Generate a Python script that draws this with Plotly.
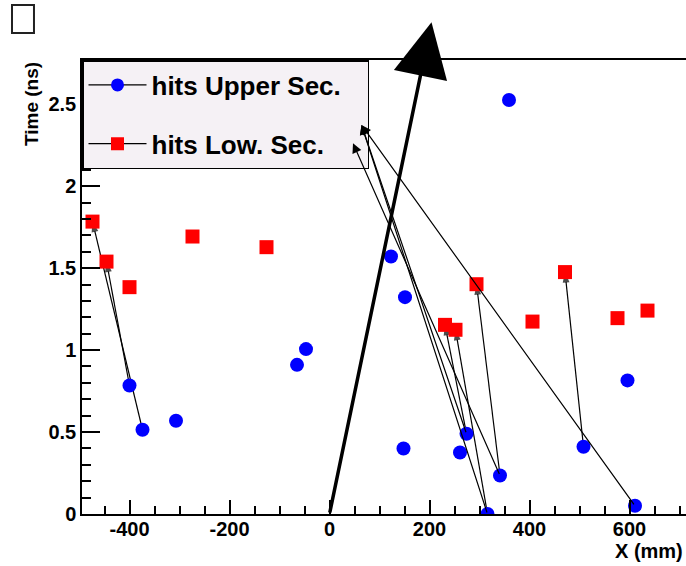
import plotly.graph_objects as go

# ---- data ----
upper_x = [611, 316, 341, 508, 596, 274, 261, 148, 151, 123, 359, -400, -374, -307, -65, -47]
upper_y = [0.05, 0.0, 0.235, 0.41, 0.815, 0.49, 0.375, 0.40, 1.323, 1.571, 2.526, 0.784, 0.514, 0.569, 0.910, 1.006]

lower_x = [-474, -446, -400, -274, -126, 231, 252, 294, 406, 471, 576, 636]
lower_y = [1.784, 1.540, 1.384, 1.693, 1.628, 1.154, 1.124, 1.402, 1.174, 1.476, 1.195, 1.241]

arrow_x0 = [-374, -400, 316, 274, 341, 508, 611, 316, 274, 341]
arrow_y0 = [0.514, 0.784, 0.0, 0.49, 0.235, 0.41, 0.05, 0.0, 0.49, 0.235]
arrow_x1 = [-474, -446, 252, 231, 294, 471, 64, 64, 64, 47]
arrow_y1 = [1.784, 1.540, 1.124, 1.154, 1.402, 1.476, 2.374, 2.374, 2.374, 2.262]

track_x = [0, 204]
track_y = [0.0, 3.0]

x_tickvals = [-400, -200, 0, 200, 400, 600]
x_ticktext = ["-400", "-200", "0", "200", "400", "600"]
y_tickvals = [0, 0.5, 1, 1.5, 2, 2.5]
y_ticktext = ["0", "0.5", "1", "1.5", "2", "2.5"]

series_names = ["hits Upper Sec.", "hits Low. Sec."]

FONT = "Liberation Sans"
PAD = "\u00a0\u00a0\u00a0"  # widens the legend box on the right like the original
LEGEND_BOTTOM = 2.1         # arrows ending above this overlap the legend box

fig = go.Figure()

# thin arrows
for x0, y0, x1, y1 in zip(arrow_x0, arrow_y0, arrow_x1, arrow_y1):
    if y1 > LEGEND_BOTTOM:
        # drawn as annotations so the heads sit on top of the legend box
        fig.add_annotation(x=x1, y=y1, ax=x0, ay=y0,
                           xref="x", yref="y", axref="x", ayref="y", text="",
                           showarrow=True, arrowhead=2, arrowwidth=1.2, arrowsize=1.6,
                           arrowcolor="black", standoff=0)
    else:
        fig.add_trace(go.Scatter(
            x=[x0, x1], y=[y0, y1], mode="lines+markers",
            line=dict(color="black", width=1.2),
            marker=dict(symbol="arrow", angleref="previous", size=[0, 11], color="black",
                        line=dict(width=0)),
            showlegend=False, hoverinfo="skip"))

# thick arrow (its head lies above the frame, so drawn as an annotation arrow)
fig.add_annotation(x=track_x[1], y=track_y[1], ax=track_x[0], ay=track_y[0],
                   xref="x", yref="y", axref="x", ayref="y", text="",
                   showarrow=True, arrowhead=2, arrowwidth=3.5, arrowsize=3.1,
                   arrowcolor="black", standoff=0)

# hits
fig.add_trace(go.Scatter(x=upper_x, y=upper_y, mode="markers",
                         marker=dict(symbol="circle", size=14, color="#0000ff"),
                         showlegend=False))
fig.add_trace(go.Scatter(x=lower_x, y=lower_y, mode="markers",
                         marker=dict(symbol="square", size=14, color="#ff0000"),
                         showlegend=False))

# legend entries
fig.add_trace(go.Scatter(x=[None], y=[None], mode="lines+markers", name=series_names[0] + PAD,
                         line=dict(color="black", width=1.2),
                         marker=dict(symbol="circle", size=13, color="#0000ff"),
                         legendgroup="a"))
fig.add_trace(go.Scatter(x=[None], y=[None], mode="lines+markers", name=series_names[1] + PAD,
                         line=dict(color="black", width=1.2),
                         marker=dict(symbol="square", size=13, color="#ff0000"),
                         legendgroup="b"))

axis_common = dict(
    showgrid=False, zeroline=False, showline=True, linecolor="black", linewidth=1.5,
    ticks="inside", tickcolor="black", tickwidth=1.5,
    tickmode="array",
    tickfont=dict(family=FONT, size=20, color="black", weight="bold"),
)

fig.update_xaxes(**axis_common, range=[-495, 713], tickvals=x_tickvals, ticktext=x_ticktext,
                 ticklen=14, mirror=True, ticklabelstandoff=-4,
                 minor=dict(ticks="inside", ticklen=8, dtick=50, tick0=0,
                            tickcolor="black", tickwidth=1.5, showgrid=False))
fig.update_yaxes(**axis_common, range=[0, 2.77], tickvals=y_tickvals, ticktext=y_ticktext,
                 ticklen=18, mirror=False,
                 minor=dict(ticks="inside", ticklen=9, dtick=0.1, tick0=0,
                            tickcolor="black", tickwidth=1.5, showgrid=False))

fig.add_annotation(text="Time (ns)", xref="paper", yref="paper", x=-0.0844, y=0.903,
                   textangle=-90, showarrow=False, xanchor="center", yanchor="middle",
                   font=dict(family=FONT, size=19, color="black", weight="bold"))
fig.add_annotation(text="X (mm)", xref="paper", yref="paper", x=0.938, y=-0.0815,
                   showarrow=False, xanchor="center", yanchor="middle",
                   font=dict(family=FONT, size=20, color="black", weight="bold"))

# empty title box
fig.add_shape(type="rect", xref="paper", yref="paper",
              x0=-0.1159, x1=-0.0795, y0=1.0595, y1=1.1211,
              line=dict(color="#222222", width=2), fillcolor="rgba(0,0,0,0)")

fig.update_layout(
    width=686, height=566,
    margin=dict(l=82, r=0, t=60, b=52),
    paper_bgcolor="white", plot_bgcolor="white",
    legend=dict(x=0, y=1, xanchor="left", yanchor="top",
                bgcolor="#f5f1f5", bordercolor="black", borderwidth=1.5,
                font=dict(family=FONT, size=26, color="black", weight="bold"),
                itemwidth=58, traceorder="grouped", tracegroupgap=22),
)

fig.write_html("out.html")
